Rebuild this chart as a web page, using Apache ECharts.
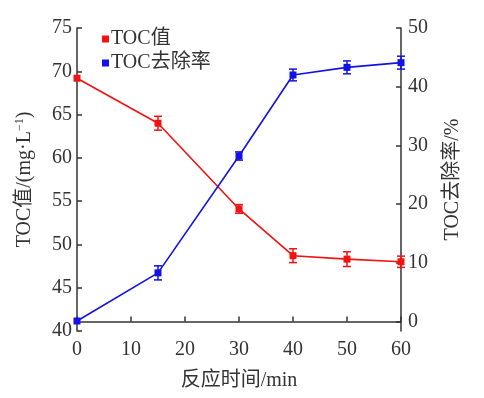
<!DOCTYPE html>
<html>
<head>
<meta charset="utf-8">
<script src="https://cdn.jsdelivr.net/npm/echarts@6/dist/echarts.min.js"></script>
<style>html,body{margin:0;padding:0;background:#fff;}#c{width:484px;height:398px;}</style>
</head>
<body>
<div id="c"></div>
<script>
const times = [0, 15, 30, 40, 50, 60];
const tocValue = [69.2, 64.0, 54.1, 48.7, 48.3, 48.0];
const tocValueErr = [0.0, 0.8, 0.5, 0.8, 0.85, 0.65];
const removalRate = [0.1, 8.3, 28.2, 42.0, 43.3, 44.1];
const removalRateErr = [0.0, 1.2, 0.7, 1.0, 1.1, 1.1];
const rightTicks = [0, 10, 20, 30, 40, 50];

const FONT = '"Liberation Serif", "Times New Roman", "Noto Sans CJK SC", serif';
const RED = '#f21212';
const BLUE = '#1212e6';
const AX = '#333';

function errSeries(name, vals, errs, yIdx, color) {
  return {
    type: 'custom',
    name: name + '_err',
    yAxisIndex: yIdx,
    silent: true,
    z: 3,
    data: times.map((t, i) => [t, vals[i], errs[i]]),
    renderItem: function (params, api) {
      const x = api.value(0), y = api.value(1), e = api.value(2);
      if (!e) return null;
      const top = api.coord([x, y + e]);
      const bot = api.coord([x, y - e]);
      const w = 4;
      const st = { stroke: color, lineWidth: 1.5 };
      return {
        type: 'group',
        children: [
          { type: 'line', shape: { x1: top[0], y1: top[1], x2: bot[0], y2: bot[1] }, style: st },
          { type: 'line', shape: { x1: top[0] - w, y1: top[1], x2: top[0] + w, y2: top[1] }, style: st },
          { type: 'line', shape: { x1: bot[0] - w, y1: bot[1], x2: bot[0] + w, y2: bot[1] }, style: st }
        ]
      };
    }
  };
}

const chart = echarts.init(document.getElementById('c'));
chart.setOption({
  animation: false,
  textStyle: { fontFamily: FONT },
  grid: { left: 77, right: 83, top: 28, bottom: 67 },
  legend: {
    orient: 'vertical', left: 97, top: 24, itemWidth: 7, itemHeight: 7, itemGap: 4,
    icon: 'rect',
    textStyle: { fontFamily: FONT, fontSize: 20, color: AX, padding: [0, 0, 0, -3] },
    data: [
      { name: 'TOC值', itemStyle: { color: RED } },
      { name: 'TOC去除率', itemStyle: { color: BLUE } }
    ]
  },
  xAxis: {
    type: 'value', min: 0, max: 60, interval: 10,
    name: '反应时间/min', nameLocation: 'middle', nameGap: 40,
    nameTextStyle: { fontFamily: FONT, fontSize: 20, color: AX },
    axisLine: { lineStyle: { color: AX, width: 1.5 } },
    axisTick: { inside: true, length: 5, lineStyle: { color: AX, width: 1.5 } },
    axisLabel: { fontFamily: FONT, fontSize: 20, color: AX, margin: 9 },
    splitLine: { show: false }
  },
  yAxis: [
    {
      type: 'value', min: 40, max: 75, interval: 5, position: 'left',
      name: '{a|TOC值/(mg·L}{s|−1}{a|)}', nameLocation: 'middle', nameGap: 41, nameRotate: 90,
      nameTextStyle: {
        fontFamily: FONT, fontSize: 20, color: AX,
        rich: {
          a: { fontFamily: FONT, fontSize: 20, color: AX },
          s: { fontFamily: FONT, fontSize: 12, color: AX, verticalAlign: 'top', padding: [0, 0, 10, 0] }
        }
      },
      axisLine: { show: true, lineStyle: { color: AX, width: 1.5 } },
      axisTick: { show: true, inside: true, length: 5, lineStyle: { color: AX, width: 1.5 } },
      axisLabel: { fontFamily: FONT, fontSize: 20, color: AX, margin: 5 },
      splitLine: { show: false }
    },
    {
      type: 'value', min: -1.6, max: 50, position: 'right',
      name: 'TOC去除率/%', nameLocation: 'middle', nameGap: 42, nameRotate: 90,
      nameTextStyle: { fontFamily: FONT, fontSize: 20, color: AX },
      axisLine: { show: true, lineStyle: { color: AX, width: 1.5 } },
      axisTick: { show: true, inside: true, length: 5, customValues: rightTicks, lineStyle: { color: AX, width: 1.5 } },
      axisLabel: { fontFamily: FONT, fontSize: 20, color: AX, margin: 7, customValues: rightTicks },
      splitLine: { show: false }
    }
  ],
  series: [
    {
      name: 'TOC值', type: 'line', yAxisIndex: 0,
      data: times.map((t, i) => [t, tocValue[i]]),
      symbol: 'rect', symbolSize: 7, z: 4,
      lineStyle: { color: RED, width: 1.6 },
      itemStyle: { color: RED }
    },
    {
      name: 'TOC去除率', type: 'line', yAxisIndex: 1,
      data: times.map((t, i) => [t, removalRate[i]]),
      symbol: 'rect', symbolSize: 7, z: 4,
      lineStyle: { color: BLUE, width: 1.6 },
      itemStyle: { color: BLUE }
    },
    errSeries('TOC值', tocValue, tocValueErr, 0, RED),
    errSeries('TOC去除率', removalRate, removalRateErr, 1, BLUE)
  ]
});
</script>
</body>
</html>
